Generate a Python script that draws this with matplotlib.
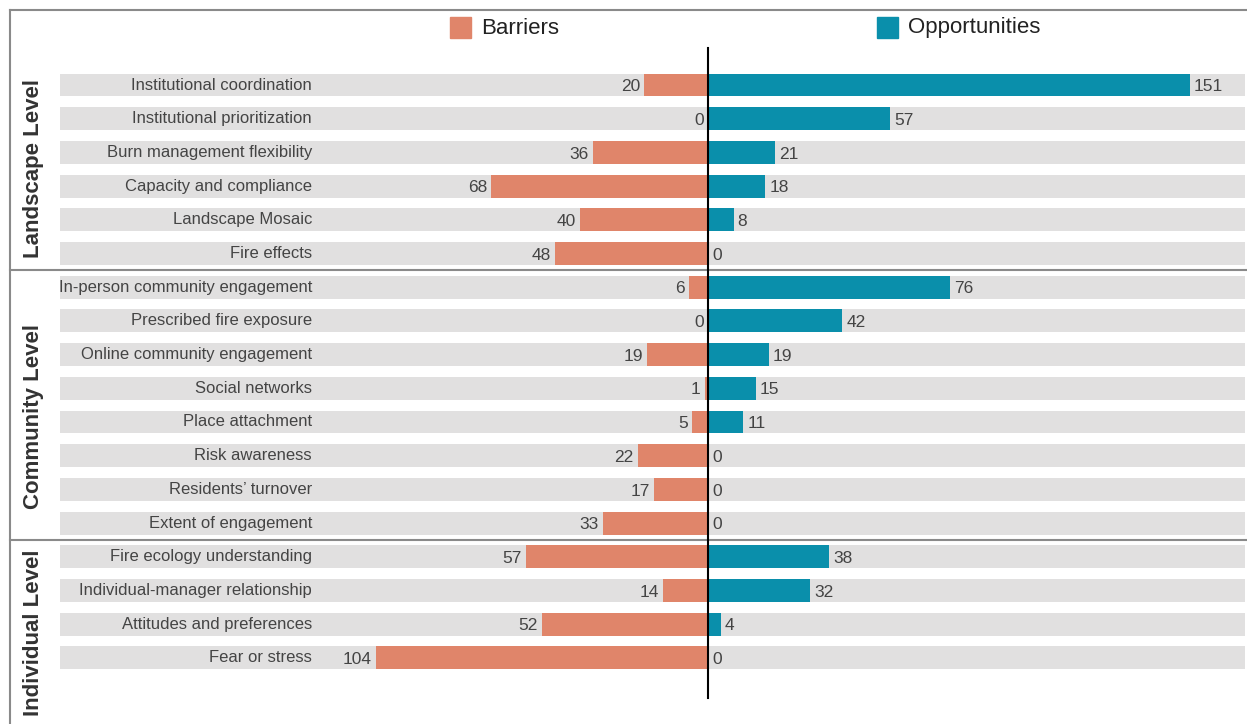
import matplotlib
matplotlib.use("Agg")
import matplotlib.pyplot as plt
from matplotlib.patches import Rectangle

categories = [
    "Institutional coordination", "Institutional prioritization", "Burn management flexibility",
    "Capacity and compliance", "Landscape Mosaic", "Fire effects",
    "In-person community engagement", "Prescribed fire exposure", "Online community engagement",
    "Social networks", "Place attachment", "Risk awareness", "Residents\u2019 turnover",
    "Extent of engagement",
    "Fire ecology understanding", "Individual-manager relationship", "Attitudes and preferences",
    "Fear or stress",
]
barriers = [20, 0, 36, 68, 40, 48, 6, 0, 19, 1, 5, 22, 17, 33, 57, 14, 52, 104]
opportunities = [151, 57, 21, 18, 8, 0, 76, 42, 19, 15, 11, 0, 0, 0, 38, 32, 4, 0]
groups = ["Landscape Level", "Community Level", "Individual Level"]
group_sizes = [6, 8, 4]

plt.rcParams['font.family'] = ['Liberation Sans', 'DejaVu Sans']

W, H = 1247, 724
fig = plt.figure(figsize=(W / 100, H / 100), dpi=100)
ax = fig.add_axes([0, 0, 1, 1])
ax.axis('off')

x0px, ppu = 708, 3.19
y0px, rowpx = 85, 33.7
ax.set_xlim(-x0px / ppu, (W - x0px) / ppu)
ax.set_ylim((H - y0px) / rowpx, -y0px / rowpx)

BAR_C = '#E0856A'
OPP_C = '#0A8FAB'
BG_C = '#E1E0E0'
TXT_C = '#444444'
bh = 0.68
n = len(categories)
ys = list(range(n))

bg_left = (60 - x0px) / ppu
bg_right = (1245 - x0px) / ppu
ax.barh(ys, [bg_right - bg_left] * n, left=bg_left, height=bh, color=BG_C, zorder=1)
ax.barh(ys, [-b for b in barriers], height=bh, color=BAR_C, zorder=2)
ax.barh(ys, opportunities, height=bh, color=OPP_C, zorder=2)

label_x = (312 - x0px) / ppu
for y, cat, b, o in zip(ys, categories, barriers, opportunities):
    ax.text(label_x, y, cat, ha='right', va='center', fontsize=12, color=TXT_C, zorder=3)
    ax.text(-b - 1.3, y + 0.05, str(b), ha='right', va='center', fontsize=12.5, color=TXT_C, zorder=3)
    ax.text(o + 1.3, y + 0.05, str(o), ha='left', va='center', fontsize=12.5,
            color=TXT_C, zorder=3)

# zero line
ax.plot([0, 0], [(48 - y0px) / rowpx, (698 - y0px) / rowpx], color='black', lw=1.5, zorder=4)

# frame and group separators
fc = '#8a8a8a'
lx = 10 / W
ax.plot([lx, lx], [0, 1 - 10 / H], color=fc, lw=1.5, transform=ax.transAxes, clip_on=False)
ax.plot([lx, 1], [1 - 10 / H, 1 - 10 / H], color=fc, lw=1.5, transform=ax.transAxes, clip_on=False)
start = 0
centers_px = [168, 417, 633]
for gi, (g, s) in enumerate(zip(groups, group_sizes)):
    end = start + s
    if end < n:
        ax.plot([lx, 1], [1 - (y0px + (end - 0.5) * rowpx) / H] * 2, color=fc, lw=1.5,
                transform=ax.transAxes, clip_on=False)
    ax.text(34 / W, 1 - centers_px[gi] / H, g, rotation=90, ha='center', va='center',
            fontsize=16, fontweight='bold', color='#333333', transform=ax.transAxes)
    start = end

# legend
for (lbl, col, xs) in [("Barriers", BAR_C, 450), ("Opportunities", OPP_C, 877)]:
    ax.add_patch(Rectangle((xs / W, 1 - 38 / H), 21 / W, 21 / H, color=col,
                           transform=ax.transAxes, clip_on=False))
    ax.text((xs + 31) / W, 1 - 28 / H, lbl, ha='left', va='center', fontsize=16,
            color='#222222', transform=ax.transAxes)

fig.savefig('out.png', dpi=100)
